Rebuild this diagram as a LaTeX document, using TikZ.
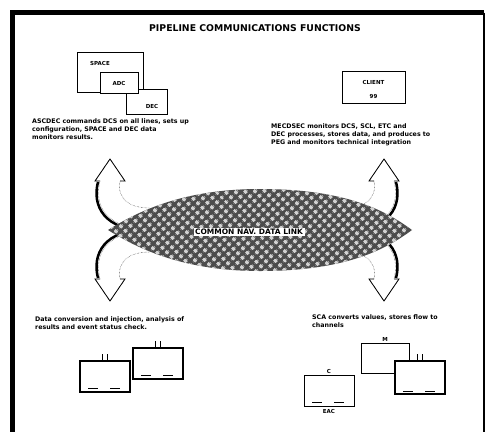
\documentclass[tikz,border=0pt]{standalone}
\usepackage{fontspec}
\setmainfont{DejaVu Sans}
\usetikzlibrary{patterns.meta,positioning}

\begin{document}
\begin{tikzpicture}[x=1pt, y=-1pt,
      box/.style={draw, thick, fill=white, inner sep=0pt},
      lbl/.style={inner sep=0pt, font=\fontsize{5.5}{6}\selectfont\bfseries},
      note/.style={anchor=north west, align=left, inner sep=0pt,
                   font=\fontsize{6.3}{7.6}\selectfont\bfseries},
      tank/.style={draw, very thick, fill=white, minimum width=50pt,
                   minimum height=31pt, inner sep=0pt},
      band/.style={fill=white, draw=black, densely dotted},
      shadow/.style={line width=2.5pt}
  ]
      \useasboundingbox (0,0) rectangle (494,431);

      % Frame
      \draw[line width=4.5pt] (12.5,445) -- (12.5,12.5) -- (484,12.5);
      \draw[line width=1.2pt] (484,12.5) -- (484,445);

      % Title
      \node (title) [font=\fontsize{9.3}{10}\selectfont\bfseries] at (255,28)
          {PIPELINE COMMUNICATIONS FUNCTIONS};

      % Station boxes
      \node (space) [box, minimum width=66pt, minimum height=40pt] at (110,72) {};
      \node (dec) [box, minimum width=41pt, minimum height=25pt] at (146.5,101.5) {};
      \node (adc) [box, minimum width=38pt, minimum height=21pt] at (119,82.5) {};
      \node (spacelbl) [lbl] at (100,63) {SPACE};
      \node (adclbl) [lbl] at (119,83) {ADC};
      \node (declbl) [lbl] at (152,106) {DEC};

      \node (client) [box, minimum width=63pt, minimum height=32pt] at (373.5,87) {};
      \node (clientlbl) [lbl] at (373.5,82) {CLIENT};
      \node (clientnum) [lbl] at (373.5,96) {99};

      % Notes
      \node (noteul) [note] at (32,119) {ASCDEC commands DCS on all lines, sets up\\
          configuration, SPACE and DEC data\\monitors results.};
      \node (noteur) [note] at (271,124) {MECDSEC monitors DCS, SCL, ETC and\\
          DEC processes, stores data, and produces to\\PEG and monitors technical integration};
      \node (notell) [note] at (35,317) {Data conversion and injection, analysis of\\
          results and event status check.};
      \node (notelr) [note] at (312,315) {SCA converts values, stores flow to\\channels};

      % Bent arrows
      \foreach \sx/\sy in {1/1, 1/-1, -1/1, -1/-1}{
        \begin{scope}[shift={(247,230)}, xscale=\sx, yscale=\sy, shift={(-247,-230)}]
          \filldraw[band] (150,229) .. controls (105,229) and (94,205) .. (100,181)
              -- (95,181) -- (110,159) -- (125,181) -- (120,181)
              .. controls (117,198) and (128,208) .. (150,208) -- cycle;
          \draw[thick] (100,181) -- (95,181) -- (110,159) -- (125,181) -- (120,181);
          \draw[shadow] (150,231) .. controls (103,231) and (92,205) .. (98,182);
        \end{scope}
      }

      % Central hub
      \def\hubpath{(108,230) .. controls (140,210) and (185,189) .. (260,189)
          .. controls (345,189) and (385,210) .. (412,230)
          .. controls (385,250) and (345,271) .. (260,271)
          .. controls (185,271) and (140,250) .. (108,230) -- cycle}
      \fill[black!70] \hubpath;
      \fill[pattern={Dots[radius=2.3pt, distance=6.5pt, angle=45]}, pattern color=gray!35] \hubpath;
      \node (hub) [fill=white, inner sep=1.5pt, font=\fontsize{7.5}{8}\selectfont\bfseries]
          at (249,232) {COMMON NAV. DATA LINK};

      % Tanks, lower left
      \node (tankl) [tank] at (105,376.5) {};
      \node (tankm) [tank] at (158,363.5) {};
      % Tanks, lower right
      \node (tanka) [tank, thick] at (329,390.5) {};
      \node (tankb) [tank, thick, minimum width=48pt, minimum height=30pt] at (385,358) {};
      \node (tankc) [tank, line width=1.8pt, minimum height=33pt] at (420,377.5) {};
      \node (tankalbl) [lbl, below=3pt of tanka] {EAC};
      \node (tankatop) [lbl, above=1pt of tanka] {C};
      \node (tankbtop) [lbl, above=1pt of tankb] {M};

      % Stubs and bottom marks
      \foreach \t in {tankl, tankm, tankc}{
        \draw[thick] ([xshift=-2.5pt]\t.north) -- ++(0,-6);
        \draw[thick] ([xshift=2.5pt]\t.north) -- ++(0,-6);
      }
      \foreach \t in {tankl, tankm, tanka, tankc}{
        \draw[thick] ([shift={(-17,-4)}]\t.south) -- ++(10,0);
        \draw[thick] ([shift={(5,-4)}]\t.south) -- ++(10,0);
      }
  \end{tikzpicture}
\end{document}
